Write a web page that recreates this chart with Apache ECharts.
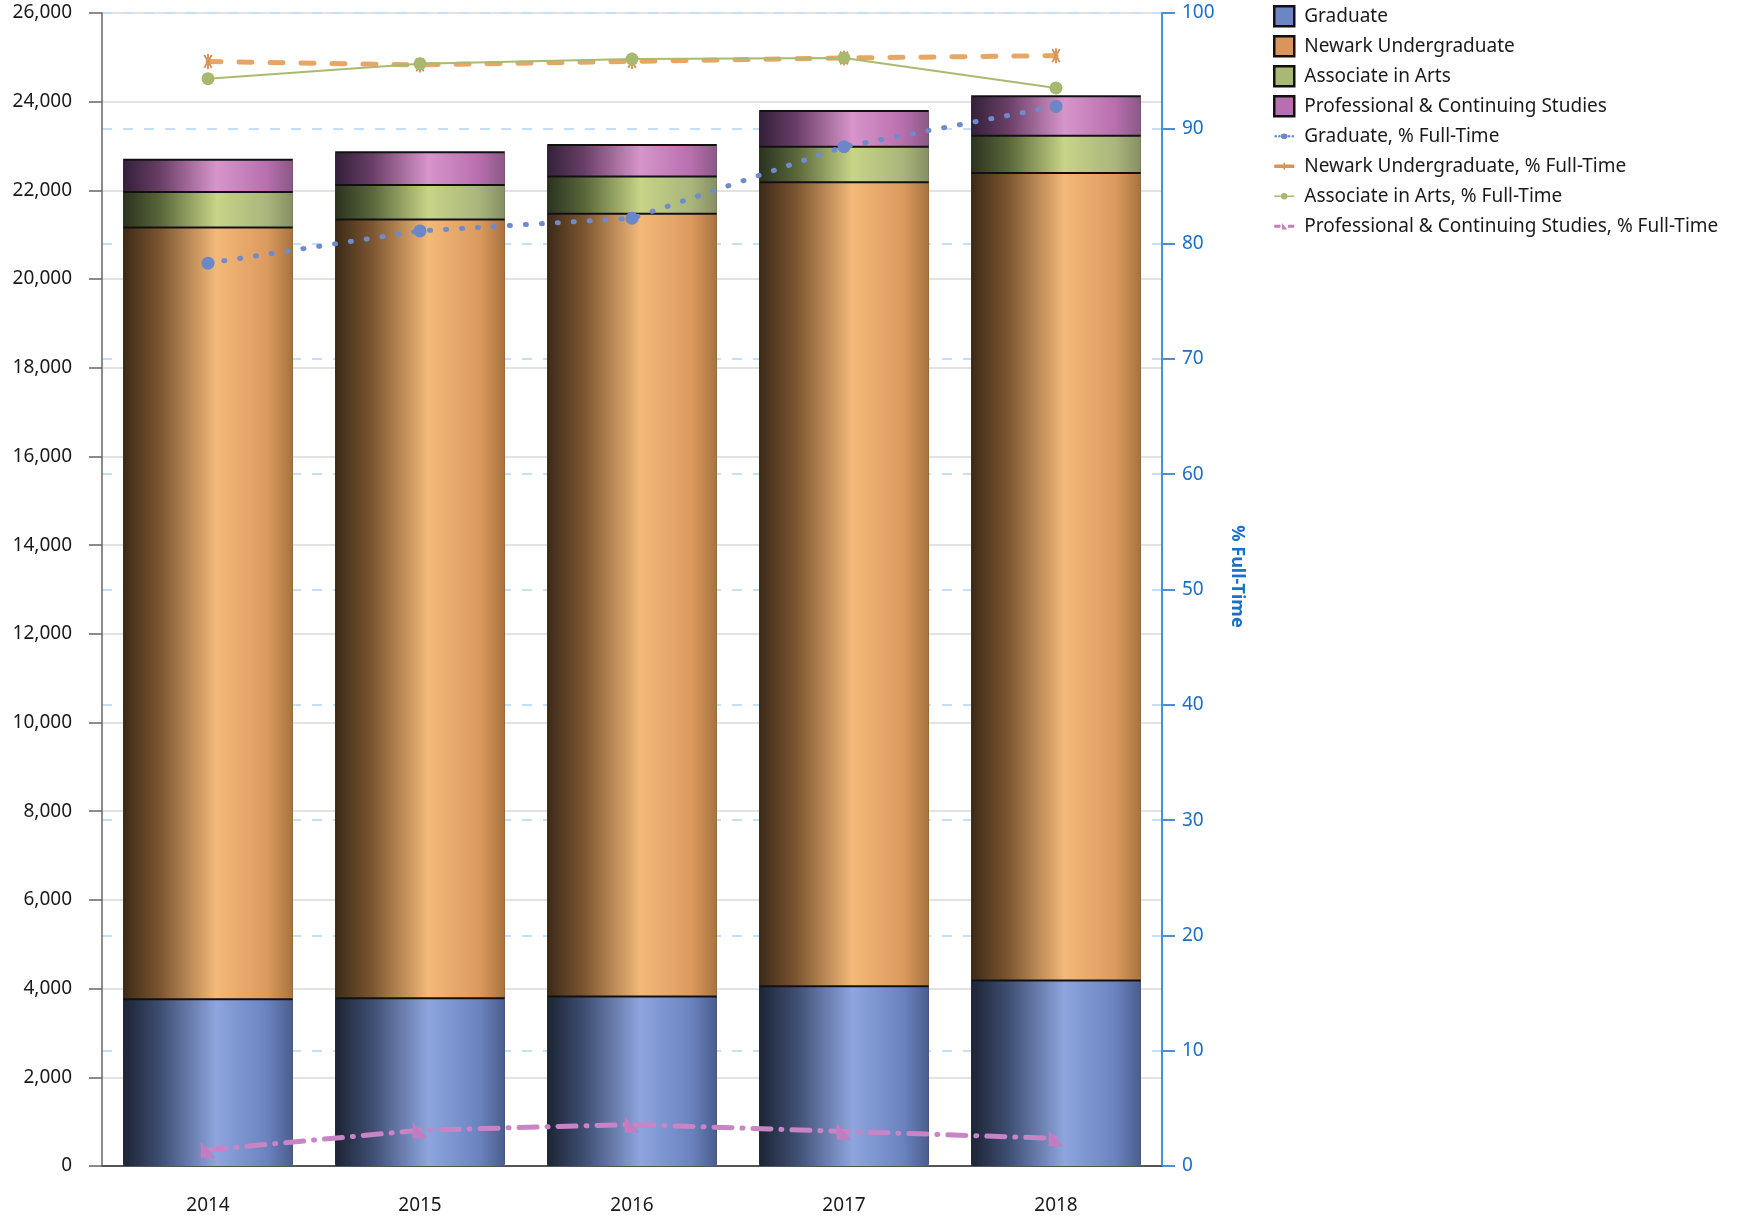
<!DOCTYPE html>
<html>
<head>
<meta charset="utf-8">
<script src="https://cdn.jsdelivr.net/npm/echarts@6/dist/echarts.min.js"></script>
<style>
html,body{margin:0;padding:0;background:#fff;}
#chart{width:1737px;height:1217px;}
</style>
</head>
<body>
<div id="chart"></div>
<script>
const categories = ['2014', '2015', '2016', '2017', '2018'];
const graduate = [3740, 3760, 3800, 4030, 4160];
const newarkUG = [17400, 17560, 17650, 18130, 18210];
const associateArts = [800, 780, 840, 800, 840];
const profCont = [730, 740, 710, 810, 890];
const gradPct = [78.3, 81.1, 82.2, 88.4, 91.9];
const newarkPct = [95.8, 95.5, 95.8, 96.1, 96.3];
const aaPct = [94.3, 95.6, 96.0, 96.1, 93.5];
const pcsPct = [1.4, 3.1, 3.6, 3.0, 2.4];
const leftAxisMax = 26000, leftAxisStep = 2000;
const rightAxisMax = 100, rightAxisStep = 10;

const FONT = 'Noto Sans';

function grad(stops) {
  return new echarts.graphic.LinearGradient(0, 0, 1, 0,
    stops.map((c, i) => ({ offset: [0, 0.22, 0.55, 0.85, 1][i], color: c })));
}
const blueFill = grad(['#1c2434', '#3f4e72', '#8ea5de', '#6a83bf', '#4a5d8c']);
const orangeFill = grad(['#3c2a18', '#7d5631', '#f3b979', '#dc9a5e', '#a8733f']);
const greenFill = grad(['#2b3220', '#59673a', '#c8d487', '#a9b57c', '#858f63']);
const purpleFill = grad(['#33203a', '#6a3f66', '#d795cb', '#b76fad', '#8a5886']);

const asterisk = 'path://M-0.7,-6 L0.7,-6 L0.7,6 L-0.7,6 Z M2.4,5.55 L3.6,4.85 L-2.4,-5.55 L-3.6,-4.85 Z M3.6,-4.85 L2.4,-5.55 L-3.6,4.85 L-2.4,5.55 Z';
const wedge = 'path://M0,0 L0,12 L11,12 Z';

// legend icons (line + marker) for the % series
const iconGradPct = 'path://M0.2,5a1.6,1.6 0 1,0 3.2,0a1.6,1.6 0 1,0 -3.2,0Z M4.6,5a1.6,1.6 0 1,0 3.2,0a1.6,1.6 0 1,0 -3.2,0Z M8,5a4,3.4 0 1,0 8,0a4,3.4 0 1,0 -8,0Z M16.2,5a1.6,1.6 0 1,0 3.2,0a1.6,1.6 0 1,0 -3.2,0Z M20.6,5a1.6,1.6 0 1,0 3.2,0a1.6,1.6 0 1,0 -3.2,0Z M0,0 M24,10';
const iconNewarkPct = 'path://M0,3L24,3L24,7L0,7Z M11,0.8L13,0.8L13,9.2L11,9.2Z M0,0 M24,10';
const iconAaPct = 'path://M0,4L8,4L8,6L0,6Z M8,5a4,4 0 1,0 8,0a4,4 0 1,0 -8,0Z M16,4L24,4L24,6L16,6Z M0,0 M24,10';
const iconPcsPct = 'path://M0,3.2L7.5,3.2L7.5,6.8L0,6.8Z M9.2,1L9.2,8.8L15.5,8.8Z M16.5,3.2L24,3.2L24,6.8L16.5,6.8Z M0,0 M24,10';

function barSeries(name, data, fill, z) {
  return {
    name: name, type: 'bar', stack: 'enroll', data: data, z: z,
    barCategoryGap: '20%',
    itemStyle: { color: fill, shadowColor: '#111', shadowBlur: 0, shadowOffsetY: -2, shadowOffsetX: 0 },
    emphasis: { disabled: true }
  };
}

const chart = echarts.init(document.getElementById('chart'));
const legendText = { fontFamily: FONT, fontSize: 19, lineHeight: 20, color: '#1a1a1a', padding: [0, 0, 0, 5] };
const legendTextLine = { fontFamily: FONT, fontSize: 19, lineHeight: 22.5, color: '#1a1a1a', padding: [0, 0, 0, 5] };
const legendIcon = (c) => ({ color: c, borderColor: '#111', borderWidth: 2.5, shadowColor: 'transparent', shadowOffsetY: 0 });
const legendLine = (c) => ({ color: c, borderWidth: 0, shadowColor: 'transparent' });

chart.setOption({
  animation: false,
  textStyle: { fontFamily: FONT },
  grid: { left: 102, right: 575, top: 13, bottom: 51 },
  legend: {
    orient: 'vertical', left: 1268, top: 0,
    itemWidth: 20, itemHeight: 20, itemGap: 7.5,
    textStyle: legendText,
    data: [
      { name: 'Graduate', icon: 'rect', itemStyle: legendIcon('#6c86c4') },
      { name: 'Newark Undergraduate', icon: 'rect', itemStyle: legendIcon('#d9955c') },
      { name: 'Associate in Arts', icon: 'rect', itemStyle: legendIcon('#a9b874') },
      { name: 'Professional & Continuing Studies', icon: 'rect', itemStyle: legendIcon('#b86fb2') },
      { name: 'Graduate, % Full-Time', icon: iconGradPct, itemStyle: legendLine('#6d88c8'), textStyle: legendTextLine },
      { name: 'Newark Undergraduate, % Full-Time', icon: iconNewarkPct, itemStyle: legendLine('#d99558'), textStyle: legendTextLine },
      { name: 'Associate in Arts, % Full-Time', icon: iconAaPct, itemStyle: legendLine('#a9b86f'), textStyle: legendTextLine },
      { name: 'Professional & Continuing Studies, % Full-Time', icon: iconPcsPct, itemStyle: legendLine('#c47fc0'), textStyle: legendTextLine }
    ]
  },
  xAxis: {
    type: 'category', data: categories,
    axisLine: { lineStyle: { color: '#555', width: 2 } },
    axisTick: { alignWithLabel: true, length: 13, lineStyle: { color: '#777', width: 1.5 } },
    axisLabel: { fontSize: 19, color: '#1a1a1a', margin: 30, fontFamily: FONT }
  },
  yAxis: [
    {
      type: 'value', min: 0, max: leftAxisMax, interval: leftAxisStep,
      axisLine: { show: true, lineStyle: { color: '#666', width: 1.5 } },
      axisTick: { show: true, length: 13, lineStyle: { color: '#666', width: 1.5 } },
      axisLabel: { fontSize: 19, color: '#1a1a1a', margin: 30, fontFamily: FONT, padding: [7, 0, 0, 0],
        formatter: v => v.toLocaleString('en-US') },
      splitLine: { lineStyle: { color: '#d9d9d9', width: 1.5 } }
    },
    {
      type: 'value', min: 0, max: rightAxisMax, interval: rightAxisStep, position: 'right',
      name: '% Full-Time', nameLocation: 'middle', nameRotate: -90, nameGap: 66,
      nameTextStyle: { color: '#1a6fc9', fontWeight: 'bold', fontSize: 18, fontFamily: FONT, padding: [0, 26, 0, 0] },
      axisLine: { show: true, lineStyle: { color: '#4a90d9', width: 2 } },
      axisTick: { show: true, length: 13, lineStyle: { color: '#4a90d9', width: 2 } },
      axisLabel: { fontSize: 19, color: '#1a6fc9', margin: 20, fontFamily: FONT, padding: [7, 0, 0, 0] },
      splitLine: { show: true, lineStyle: { color: '#c5dff8', width: 2, type: [10, 11] } }
    }
  ],
  series: [
    barSeries('Graduate', graduate, blueFill, 5),
    barSeries('Newark Undergraduate', newarkUG, orangeFill, 4),
    barSeries('Associate in Arts', associateArts, greenFill, 3),
    barSeries('Professional & Continuing Studies', profCont, purpleFill, 2),
    {
      name: 'Graduate, % Full-Time', type: 'line', yAxisIndex: 1, data: gradPct, z: 10,
      symbol: 'circle', symbolSize: 13,
      itemStyle: { color: '#6b87c7' },
      lineStyle: { color: '#6f8bcc', width: 5, type: [1, 15], cap: 'round' }
    },
    {
      name: 'Newark Undergraduate, % Full-Time', type: 'line', yAxisIndex: 1, data: newarkPct, z: 11,
      symbol: asterisk, symbolSize: 15, symbolKeepAspect: true,
      itemStyle: { color: '#d4874a' },
      lineStyle: { color: '#e6a665', width: 5, type: [13, 18], cap: 'round' }
    },
    {
      name: 'Associate in Arts, % Full-Time', type: 'line', yAxisIndex: 1, data: aaPct, z: 12,
      symbol: 'circle', symbolSize: 13,
      itemStyle: { color: '#a9b86f' },
      lineStyle: { color: '#a9bb6e', width: 2 }
    },
    {
      name: 'Professional & Continuing Studies, % Full-Time', type: 'line', yAxisIndex: 1, data: pcsPct, z: 13,
      symbol: wedge, symbolSize: 16, symbolKeepAspect: true,
      itemStyle: { color: '#c27cbf' },
      lineStyle: { color: '#c884c4', width: 5, type: [18, 10, 1, 10], cap: 'round' }
    }
  ]
});
</script>
</body>
</html>
